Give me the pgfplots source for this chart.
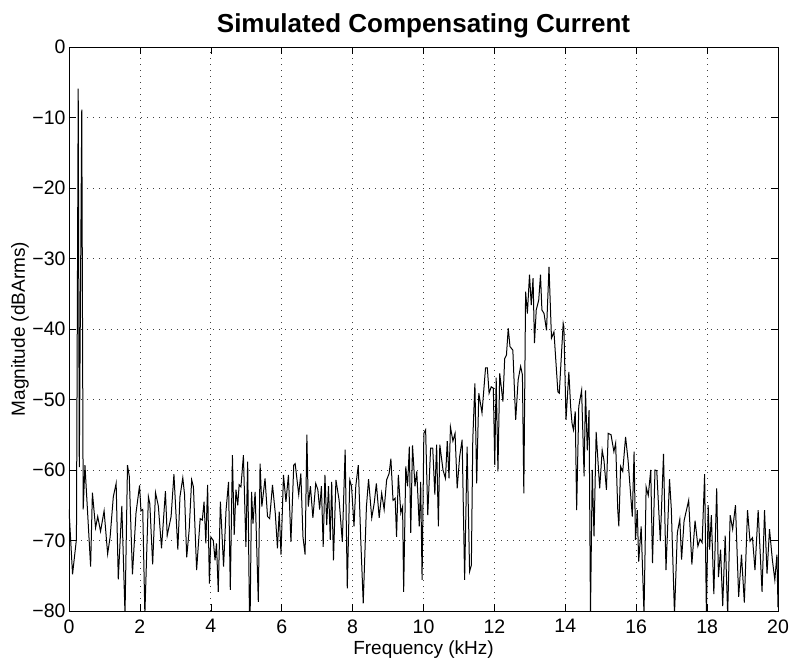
\documentclass[border=0pt]{standalone}
\usepackage{fontspec}
\setmainfont{Liberation Sans}
\usepackage{pgfplots}
\pgfplotsset{compat=1.18}

\begin{document}
\begin{tikzpicture}
\useasboundingbox (-69pt,-55pt) rectangle (722pt,611pt);
\begin{axis}[
    scale only axis,
    width=709pt, height=564pt,
    xmin=0, xmax=20, ymin=-80, ymax=0,
    xtick={0,2,...,20},
    ytick={-80,-70,...,0},
    yticklabels={−80,−70,−60,−50,−40,−30,−20,−10,0},
    tick align=inside, tickpos=both,
    major tick length=7pt,
    axis line style={line width=0.9pt},
    tick style={line width=0.6pt, black},
    grid=major,
    major grid style={black!75, line width=0.7pt, dash pattern=on 1pt off 5pt},
    /pgf/number format/assume math mode=true,
    tick label style={font=\fontsize{19.5}{22}\selectfont},
    xticklabel style={yshift=-5pt},
    title={Simulated Compensating Current},
    title style={font=\fontsize{26}{30}\selectfont\bfseries,
        at={(axis description cs:0.5,1)}, anchor=center, yshift=15pt},
    xlabel={Frequency (kHz)},
    xlabel style={font=\fontsize{19}{22}\selectfont,
        at={(axis description cs:0.5,-0.069)}, anchor=center},
    ylabel={Magnitude (dBArms)},
    ylabel style={font=\fontsize{19}{22}\selectfont,
        at={(axis description cs:-0.069,0.5)}, anchor=center},
    clip=true,
]
\addplot[black, line width=1pt, mark=none] coordinates {
(0.00,-65.6) (0.10,-74.8) (0.21,-69.8) (0.26,-5.9) (0.29,-59.6) (0.36,-8.9)
(0.40,-65.6) (0.45,-59.3) (0.61,-73.7) (0.66,-63.2) (0.75,-68.2) (0.81,-66.6)
(0.89,-68.7) (0.99,-65.8) (1.09,-71.9) (1.16,-69.5) (1.25,-63.8) (1.33,-61.9)
(1.39,-75.5) (1.49,-65.1) (1.58,-80.5) (1.65,-59.3) (1.70,-60.9) (1.79,-74.8)
(1.89,-66.1) (1.99,-62.2) (2.03,-65.8) (2.08,-65.6) (2.14,-80.5) (2.24,-63.8)
(2.28,-64.8) (2.36,-73.4) (2.44,-63.2) (2.52,-65.1) (2.61,-71.1) (2.72,-63.0)
(2.77,-69.3) (2.88,-66.6) (2.96,-60.6) (3.07,-71.3) (3.13,-63.8) (3.21,-61.1)
(3.26,-63.5) (3.32,-72.4) (3.39,-68.5) (3.46,-61.4) (3.51,-62.4) (3.60,-74.2)
(3.70,-66.9) (3.76,-67.1) (3.81,-64.5) (3.86,-70.4) (3.91,-62.1) (3.96,-76.1)
(4.00,-69.5) (4.07,-70.0) (4.12,-72.8) (4.16,-70.4) (4.21,-77.3) (4.27,-64.5)
(4.31,-68.5) (4.36,-73.7) (4.43,-65.7) (4.50,-61.7) (4.55,-77.0) (4.61,-57.9)
(4.66,-69.2) (4.71,-62.8) (4.76,-65.0) (4.80,-62.1) (4.85,-62.4) (4.92,-57.9)
(4.99,-70.9) (5.04,-58.8) (5.09,-80.5) (5.11,-80.5) (5.15,-63.1) (5.19,-67.6)
(5.25,-63.1) (5.34,-78.7) (5.39,-59.1) (5.44,-65.2) (5.53,-61.2) (5.60,-66.6)
(5.66,-66.9) (5.74,-62.1) (5.82,-66.2) (5.88,-71.1) (5.93,-65.9) (5.98,-72.0)
(6.05,-60.7) (6.12,-64.5) (6.19,-60.7) (6.26,-70.2) (6.34,-59.3) (6.38,-59.1)
(6.48,-63.5) (6.54,-60.5) (6.60,-69.5) (6.66,-72.0) (6.71,-55.0) (6.75,-65.2)
(6.81,-62.3) (6.88,-66.8) (6.96,-61.9) (7.02,-62.8) (7.07,-65.6) (7.12,-62.3)
(7.17,-70.9) (7.22,-60.7) (7.27,-67.8) (7.32,-62.3) (7.37,-69.9) (7.41,-61.7)
(7.46,-72.8) (7.53,-61.4) (7.62,-64.3) (7.71,-70.2) (7.79,-57.1) (7.85,-76.8)
(7.92,-61.4) (7.97,-62.3) (8.04,-68.0) (8.09,-62.3) (8.16,-59.3) (8.23,-69.9)
(8.30,-78.9) (8.39,-65.2) (8.45,-61.3) (8.54,-66.8) (8.61,-64.7) (8.67,-61.9)
(8.75,-66.8) (8.82,-63.3) (8.89,-65.6) (8.96,-61.4) (9.03,-60.5) (9.08,-58.4)
(9.14,-64.3) (9.20,-64.0) (9.24,-69.5) (9.29,-60.7) (9.36,-66.1) (9.41,-65.2)
(9.44,-77.3) (9.50,-59.5) (9.55,-62.3) (9.60,-56.7) (9.64,-68.9) (9.69,-56.5)
(9.76,-62.3) (9.81,-60.2) (9.88,-68.0) (9.92,-61.7) (9.96,-75.6) (10.01,-54.8)
(10.06,-54.3) (10.12,-66.4) (10.20,-56.9) (10.26,-56.9) (10.32,-63.5) (10.37,-56.4)
(10.42,-68.0) (10.46,-56.4) (10.55,-60.0) (10.62,-61.2) (10.67,-55.9) (10.72,-61.2)
(10.76,-53.9) (10.83,-55.9) (10.89,-54.8) (10.95,-62.6) (11.02,-58.1) (11.09,-55.7)
(11.16,-75.6) (11.23,-56.7) (11.30,-74.4) (11.35,-73.5) (11.39,-55.7) (11.45,-47.7)
(11.50,-61.9) (11.56,-49.1) (11.65,-51.9) (11.75,-45.5) (11.80,-45.5) (11.85,-49.1)
(11.91,-48.2) (11.97,-48.4) (12.01,-59.3) (12.05,-46.9) (12.10,-60.2) (12.15,-46.3)
(12.24,-50.3) (12.29,-44.2) (12.34,-43.7) (12.39,-39.9) (12.44,-42.5) (12.52,-43.0)
(12.60,-52.9) (12.67,-47.2) (12.74,-45.3) (12.79,-46.5) (12.83,-63.3) (12.88,-34.7)
(12.93,-37.8) (12.99,-32.3) (13.04,-36.6) (13.09,-32.8) (13.13,-42.0) (13.18,-37.3)
(13.25,-35.9) (13.30,-32.3) (13.34,-37.3) (13.40,-37.8) (13.47,-40.2) (13.54,-31.2)
(13.61,-41.3) (13.68,-40.4) (13.79,-48.9) (13.83,-49.1) (13.94,-39.2) (13.96,-39.7)
(14.02,-52.9) (14.10,-46.1) (14.15,-51.0) (14.19,-53.4) (14.23,-54.3) (14.28,-51.7)
(14.32,-65.7) (14.38,-51.0) (14.46,-48.7) (14.53,-60.9) (14.57,-48.7) (14.62,-57.2)
(14.67,-51.5) (14.71,-80.5) (14.76,-60.0) (14.81,-69.4) (14.87,-54.6) (14.97,-62.6)
(15.04,-57.2) (15.09,-58.6) (15.16,-62.8) (15.21,-54.8) (15.29,-55.0) (15.37,-57.4)
(15.42,-56.2) (15.48,-65.7) (15.51,-68.0) (15.56,-59.5) (15.62,-60.2) (15.70,-55.3)
(15.77,-58.6) (15.84,-63.3) (15.89,-66.6) (15.94,-57.4) (15.98,-69.9) (16.03,-65.7)
(16.07,-73.0) (16.14,-68.0) (16.22,-80.5) (16.28,-62.4) (16.34,-63.6) (16.41,-60.0)
(16.46,-73.2) (16.53,-60.0) (16.58,-60.1) (16.68,-70.1) (16.77,-57.7) (16.84,-74.2)
(16.94,-61.3) (16.99,-65.5) (17.08,-80.5) (17.16,-68.9) (17.23,-67.0) (17.28,-72.7)
(17.35,-67.2) (17.48,-64.3) (17.57,-73.4) (17.66,-67.2) (17.74,-70.8) (17.80,-69.8)
(17.86,-70.3) (17.93,-60.6) (17.98,-80.5) (18.03,-65.0) (18.07,-71.3) (18.12,-66.4)
(18.19,-77.6) (18.27,-62.6) (18.32,-75.2) (18.38,-71.3) (18.44,-79.3) (18.51,-69.3)
(18.58,-80.5) (18.65,-66.4) (18.72,-68.4) (18.80,-65.0) (18.89,-78.0) (18.97,-72.0)
(19.05,-78.8) (19.14,-65.7) (19.21,-70.1) (19.28,-69.6) (19.35,-74.2) (19.44,-65.7)
(19.47,-68.9) (19.55,-77.3) (19.62,-65.7) (19.69,-74.7) (19.76,-68.4) (19.84,-72.7)
(19.91,-75.6) (19.97,-72.0) (20.00,-79.5)
};
\end{axis}
\end{tikzpicture}
\end{document}
